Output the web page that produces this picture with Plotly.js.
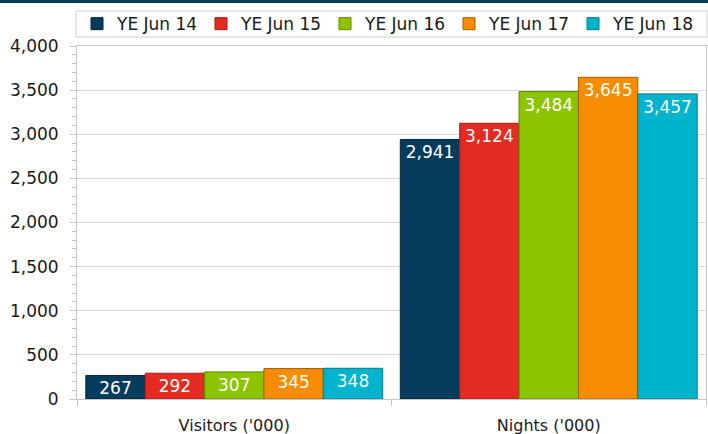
<!DOCTYPE html>
<html>
<head>
<meta charset="utf-8">
<script src="https://cdn.plot.ly/plotly-3.0.1.min.js"></script>
<style>html,body{margin:0;padding:0;background:#fff;}#chart{width:708px;height:434px;}</style>
</head>
<body>
<div id="chart"></div>
<script>
const categories = ["Visitors ('000)", "Nights ('000)"];
const seriesNames = ["YE Jun 14", "YE Jun 15", "YE Jun 16", "YE Jun 17", "YE Jun 18"];
const ye14 = [267, 2941];
const ye15 = [292, 3124];
const ye16 = [307, 3484];
const ye17 = [345, 3645];
const ye18 = [348, 3457];
const seriesValues = [ye14, ye15, ye16, ye17, ye18];
const fillColors = ["#053B5C", "#E32B21", "#8DC400", "#F68D00", "#00B4CE"];
const edgeColors = ["#02263C", "#9E1D15", "#5F8500", "#A85F00", "#007B8D"];

const FONT = "DejaVu Sans, Verdana, sans-serif";

const traces = seriesNames.map((name, i) => ({
  type: "bar",
  name: name,
  x: categories,
  y: seriesValues[i],
  marker: { color: fillColors[i], line: { color: edgeColors[i], width: 1 } },
  texttemplate: "%{y:,}",
  textposition: "inside",
  insidetextanchor: "end",
  constraintext: "none",
  insidetextfont: { color: "#ffffff", size: 17, family: FONT },
  hoverinfo: "skip"
}));

const layout = {
  width: 708,
  height: 434,
  margin: { l: 77, r: 2, t: 46, b: 35, pad: 0 },
  paper_bgcolor: "#ffffff",
  plot_bgcolor: "#ffffff",
  barmode: "group",
  bargap: 0.056,
  bargroupgap: 0,
  hovermode: false,
  font: { family: FONT, color: "#1a1a1a" },
  showlegend: true,
  legend: {
    orientation: "h",
    x: 0, xanchor: "left",
    y: 1.062, yanchor: "middle",
    borderwidth: 0,
    bgcolor: "rgba(0,0,0,0)",
    font: { family: FONT, size: 17, color: "#1a1a1a" },
    entrywidth: 79, entrywidthmode: "pixels",
    traceorder: "normal"
  },
  xaxis: {
    type: "category",
    showline: true, linecolor: "#c6c6c6", linewidth: 1, mirror: true,
    ticks: "outside", tickson: "boundaries", ticklen: 6, tickcolor: "#c6c6c6",
    tickfont: { family: FONT, size: 16, color: "#1a1a1a" },
    ticklabelstandoff: 12,
    showgrid: false, zeroline: false
  },
  yaxis: {
    range: [0, 4000],
    dtick: 500,
    tickformat: ",",
    showline: true, linecolor: "#c6c6c6", linewidth: 1, mirror: true,
    ticks: "outside", ticklen: 6, tickcolor: "#c6c6c6",
    minor: { dtick: 100, ticks: "outside", ticklen: 4, tickcolor: "#c6c6c6", showgrid: false },
    gridcolor: "#d9d9d9", gridwidth: 1,
    zeroline: false,
    tickfont: { family: FONT, size: 17, color: "#1a1a1a" },
    ticklabelstandoff: 8
  },
  shapes: [
    {
      type: "rect", xref: "paper", yref: "paper",
      x0: -0.2, x1: 1.1, y0: 1.1218, y1: 1.15,
      fillcolor: "#063C5E", line: { width: 0 }, layer: "above"
    },
    {
      type: "rect", xref: "paper", yref: "paper",
      x0: -0.0016, x1: 1.0016, y0: 1.0255, y1: 1.0992,
      fillcolor: "rgba(0,0,0,0)", line: { color: "#cfcfcf", width: 1 }, layer: "above"
    }
  ]
};

Plotly.newPlot("chart", traces, layout, { displayModeBar: false, staticPlot: true });
</script>
</body>
</html>
